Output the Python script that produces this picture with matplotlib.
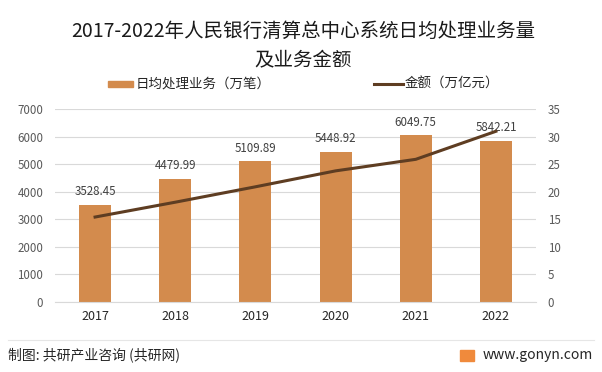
import matplotlib
matplotlib.use('Agg')
import matplotlib.pyplot as plt
from matplotlib.patches import Rectangle

plt.rcParams['font.family'] = ['Noto Sans CJK SC', 'DejaVu Sans']

# data
years = ['2017', '2018', '2019', '2020', '2021', '2022']
volume = [3528.45, 4479.99, 5109.89, 5448.92, 6049.75, 5842.21]   # 万笔
amount = [15.4, 18.1, 20.9, 23.8, 25.9, 31.0]                      # 万亿元
left_ticks = [0, 1000, 2000, 3000, 4000, 5000, 6000, 7000]
right_ticks = [0, 5, 10, 15, 20, 25, 30, 35]

bar_color = '#D38B4D'
line_color = '#5E3D22'
tick_color = '#595959'

W, H = 602, 372
fig = plt.figure(figsize=(W / 100, H / 100), dpi=100)
ax = fig.add_axes([55 / W, 1 - 301.7 / H, 481 / W, 192.4 / H])
x = list(range(len(years)))

ax.bar(x, volume, width=0.4, color=bar_color, zorder=2)
for xi, v in zip(x, volume):
    ax.annotate('{:.2f}'.format(v), (xi, v), xytext=(0, 9.5), textcoords='offset points',
                ha='center', va='center', fontsize=8.3, color='#404040', zorder=4)

ax.set_ylim(0, 7000)
ax.set_xlim(-0.5, len(years) - 0.5)
ax.set_yticks(left_ticks)
ax.set_xticks(x)
ax.set_xticklabels(years)
ax.grid(axis='y', color='#D9D9D9', linewidth=0.8, zorder=0)
ax.tick_params(axis='y', length=0, labelsize=8.3, labelcolor=tick_color, pad=8.5)
ax.tick_params(axis='x', length=0, labelsize=9, labelcolor='#262626', pad=6)
for s in ['top', 'right', 'left']:
    ax.spines[s].set_visible(False)
ax.spines['bottom'].set_color('#D9D9D9')

ax2 = ax.twinx()
ax2.plot(x, amount, color=line_color, linewidth=2.2, zorder=3)
ax2.set_ylim(0, 35)
ax2.set_yticks(right_ticks)
ax2.tick_params(axis='y', length=0, labelsize=8.3, labelcolor=tick_color, pad=8.5)
for s in ['top', 'right', 'left', 'bottom']:
    ax2.spines[s].set_visible(False)

# title
fig.text(303 / W, 1 - 31 / H, '2017-2022年人民银行清算总中心系统日均处理业务量',
         ha='center', va='center', fontsize=14, color='#1a1a1a')
fig.text(303 / W, 1 - 61 / H, '及业务金额', ha='center', va='center',
         fontsize=14, color='#1a1a1a')

# legend
fig.patches.append(Rectangle((108 / W, 1 - 87 / H), 25 / W, 6 / H,
                             transform=fig.transFigure, color=bar_color))
fig.text(136 / W, 1 - 84 / H, '日均处理业务（万笔）', ha='left', va='center',
         fontsize=9.7, color='#262626')
fig.lines.append(plt.Line2D([374 / W, 403 / W], [1 - 84 / H, 1 - 84 / H],
                            transform=fig.transFigure, color=line_color, linewidth=2.2))
fig.text(405 / W, 1 - 84 / H, '金额（万亿元）', ha='left', va='center',
         fontsize=9.7, color='#262626')

# footer
fig.lines.append(plt.Line2D([8 / W, 594 / W], [1 - 340 / H, 1 - 340 / H],
                            transform=fig.transFigure, color='#E6E6E6', linewidth=0.8))
fig.text(8 / W, 1 - 355 / H, '制图: 共研产业咨询 (共研网)', ha='left', va='center',
         fontsize=10, color='#262626')
fig.patches.append(Rectangle((460 / W, 1 - 361 / H), 14 / W, 11 / H,
                             transform=fig.transFigure, color='#F08A3C'))
fig.text(593 / W, 1 - 355 / H, 'www.gonyn.com', ha='right', va='center',
         fontsize=10, color='#262626')

fig.savefig('out.png', dpi=100)
